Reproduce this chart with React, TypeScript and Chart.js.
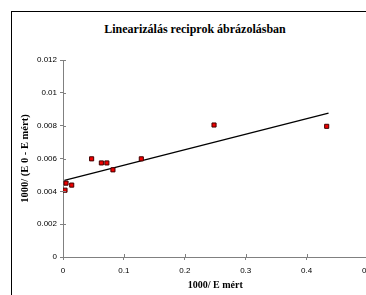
import React, { useEffect, useRef } from "react";
import { Chart, registerables } from "chart.js";

Chart.register(...registerables);

const titleText = "Linearizálás reciprok ábrázolásban";
const xAxisTitle = "1000/ E mért";
const yAxisTitle = "1000/ (E 0 - E mért)";

const xValues = [0.0033, 0.005, 0.0143, 0.047, 0.063, 0.072, 0.082, 0.1286, 0.248, 0.433];
const yValues = [0.00407, 0.0045, 0.00438, 0.00598, 0.00573, 0.00573, 0.00531, 0.00598, 0.00804, 0.00796];

const trendX = [0.0023, 0.436];
const trendY = [0.00467, 0.00876];

const xTickValues = [0, 0.1, 0.2, 0.3, 0.4, 0.5];
const xTickLabels = ["0", "0.1", "0.2", "0.3", "0.4", "0.5"];
const yTickValues = [0, 0.002, 0.004, 0.006, 0.008, 0.01, 0.012];
const yTickLabels = ["0", "0.002", "0.004", "0.006", "0.008", "0.01", "0.012"];

const crossTicks = {
  id: "crossTicks",
  afterDraw(chart: any) {
    const { ctx, chartArea, scales } = chart;
    ctx.save();
    ctx.strokeStyle = "#808080";
    ctx.lineWidth = 1;
    ctx.beginPath();
    yTickValues.forEach((v) => {
      const y = Math.round(scales.y.getPixelForValue(v)) + 0.5;
      ctx.moveTo(chartArea.left, y);
      ctx.lineTo(chartArea.left + 3, y);
    });
    xTickValues.forEach((v) => {
      const x = Math.round(scales.x.getPixelForValue(v)) + 0.5;
      ctx.moveTo(x, chartArea.bottom);
      ctx.lineTo(x, chartArea.bottom - 3);
    });
    ctx.stroke();
    ctx.restore();
  },
};

export default function App() {
  const ref = useRef<HTMLCanvasElement | null>(null);

  useEffect(() => {
    if (!ref.current) return;
    const chart = new Chart(ref.current, {
      type: "scatter",
      data: {
        datasets: [
          {
            type: "line",
            label: "trend",
            data: trendX.map((x, i) => ({ x, y: trendY[i] })),
            borderColor: "#000",
            borderWidth: 1.3,
            pointRadius: 0,
            fill: false,
            order: 2,
          },
          {
            label: "data",
            data: xValues.map((x, i) => ({ x, y: yValues[i] })),
            pointStyle: "rect",
            pointRadius: 2.9,
            backgroundColor: "#F00000",
            borderColor: "#400000",
            borderWidth: 1,
            order: 1,
          } as any,
        ],
      },
      options: {
        animation: false,
        responsive: false,
        layout: { padding: { left: 0, top: 60, right: 52.5, bottom: 0 } },
        plugins: {
          legend: { display: false },
          title: { display: false },
          tooltip: { enabled: false },
        },
        scales: {
          x: {
            type: "linear",
            min: 0,
            max: 0.5,
            afterBuildTicks: (s: any) => {
              s.ticks = xTickValues.map((v) => ({ value: v }));
            },
            afterFit: (s: any) => {
              s.height = 38;
            },
            border: { display: true, color: "#808080", width: 1 },
            grid: { display: true, drawOnChartArea: false, drawTicks: true, tickLength: 3, color: "#808080" },
            ticks: {
              color: "#000",
              font: { family: "'Liberation Sans', Arial, sans-serif", size: 8 },
              padding: 6,
              maxRotation: 0,
              callback: (_v: any, i: number) => xTickLabels[i],
            },
            title: {
              display: true,
              text: xAxisTitle,
              color: "#000",
              font: { family: "'Liberation Serif', 'Times New Roman', serif", size: 10, weight: "bold" },
              padding: { top: 0, bottom: 3.5 },
            },
          },
          y: {
            type: "linear",
            min: 0,
            max: 0.012,
            afterBuildTicks: (s: any) => {
              s.ticks = yTickValues.map((v) => ({ value: v }));
            },
            afterFit: (s: any) => {
              s.width = 63;
            },
            border: { display: true, color: "#808080", width: 1 },
            grid: { display: true, drawOnChartArea: false, drawTicks: true, tickLength: 3, color: "#808080" },
            ticks: {
              color: "#000",
              font: { family: "'Liberation Sans', Arial, sans-serif", size: 8 },
              padding: 3,
              callback: (_v: any, i: number) => yTickLabels[i],
            },
            title: {
              display: true,
              text: yAxisTitle,
              color: "#000",
              font: { family: "'Liberation Serif', 'Times New Roman', serif", size: 10.5, weight: "bold" },
              padding: { top: 18.5, bottom: 0 },
            },
          },
        },
      },
      plugins: [crossTicks],
    } as any);
    return () => chart.destroy();
  }, []);

  return (
    <div
      style={{
        position: "absolute",
        left: 0,
        top: 0,
        width: 366,
        height: 295,
        overflow: "hidden",
        background: "#fff",
      }}
    >
      <div
        style={{
          position: "absolute",
          left: 11,
          top: 11,
          width: 420,
          height: 320,
          borderLeft: "1px solid #000",
          borderTop: "1px solid #000",
        }}
      />
      <div
        style={{
          position: "absolute",
          left: 75,
          top: 22,
          width: 240,
          textAlign: "center",
          fontFamily: "'Liberation Serif', 'Times New Roman', serif",
          fontWeight: "bold",
          fontSize: 12,
          lineHeight: "15px",
          color: "#000",
          whiteSpace: "nowrap",
        }}
      >
        {titleText}
      </div>
      <canvas
        ref={ref}
        width={420}
        height={295}
        style={{ position: "absolute", left: 0, top: 0, width: 420, height: 295 }}
      />
    </div>
  );
}
